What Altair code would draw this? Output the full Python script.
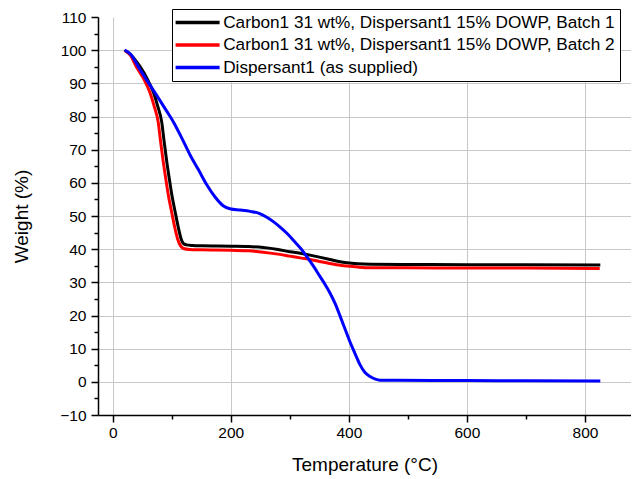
import altair as alt
import pandas as pd

S1 = "Carbon1 31 wt%, Dispersant1 15% DOWP, Batch 1"
S2 = "Carbon1 31 wt%, Dispersant1 15% DOWP, Batch 2"
S3 = "Dispersant1 (as supplied)"

black_t = [20, 30, 46, 58, 69, 76, 83, 87, 91.5, 96, 100, 106, 111, 116, 120, 125, 135, 150, 200, 230, 255, 280, 300, 320, 334, 350, 368, 383, 397, 415, 436, 500, 600, 700, 826]
black_w = [100, 98.7, 95.1, 91.5, 87.2, 83.2, 78.3, 72.5, 66.4, 61, 56.5, 51, 46.6, 43, 41.6, 41.3, 41.1, 41, 40.9, 40.8, 40.5, 39.9, 39.2, 38.7, 38.2, 37.6, 36.9, 36.3, 35.9, 35.6, 35.45, 35.4, 35.3, 35.3, 35.2]

red_t = [20, 30, 40, 52, 63, 70, 77, 81, 85.5, 90, 94, 100, 105, 110, 115, 120, 130, 150, 200, 230, 255, 280, 300, 320, 334, 350, 368, 383, 397, 415, 436, 500, 600, 700, 825]
red_w = [100, 98.4, 95, 91.5, 87.2, 83.2, 78.3, 72.5, 66.4, 61, 56.5, 51, 46.6, 43, 41, 40.2, 39.9, 39.8, 39.7, 39.5, 39.1, 38.5, 37.9, 37.3, 36.9, 36.3, 35.7, 35.2, 34.9, 34.6, 34.4, 34.4, 34.3, 34.3, 34.2]

blue_t = [20, 30, 46, 60, 75, 90, 103, 117, 131, 145, 159, 173, 187, 200, 216, 233, 248, 261, 272, 284, 295, 306, 318, 329, 340, 351, 360, 368, 377, 385, 394, 402, 411, 419, 427, 436, 445, 453, 480, 600, 700, 826]
blue_w = [100, 98.8, 94.2, 90.3, 86.2, 82, 78.3, 73.5, 68.4, 64, 59.5, 55.8, 53.1, 52.1, 51.8, 51.4, 50.8, 49.6, 48.3, 46.6, 44.8, 42.7, 40.3, 37.7, 34.9, 31.8, 29.3, 26.8, 23.5, 19.9, 15.7, 12, 8.3, 5.1, 2.9, 1.6, 0.8, 0.5, 0.45, 0.4, 0.3, 0.25]

x_ticks = [0, 100, 200, 300, 400, 500, 600, 700, 800]
y_ticks = [-10, -5, 0, 5, 10, 15, 20, 25, 30, 35, 40, 45, 50, 55, 60, 65, 70, 75, 80, 85, 90, 95, 100, 105, 110]

rows = []
for name, ts, ws in [(S1, black_t, black_w), (S2, red_t, red_w), (S3, blue_t, blue_w)]:
    for i, (t, w) in enumerate(zip(ts, ws)):
        rows.append({"series": name, "T": t, "W": w, "i": i})
df = pd.DataFrame(rows)

FONT = "Liberation Sans"

chart = alt.Chart(df).mark_line(strokeWidth=3, interpolate="monotone").encode(
    x=alt.X("T:Q", scale=alt.Scale(domain=[-25, 878], nice=False, zero=False),
            axis=alt.Axis(
                title="Temperature (°C)", values=x_ticks,
                labelExpr="datum.value % 200 === 0 ? datum.label : ''",
                tickSize={"condition": {"test": "datum.value % 200 === 0", "value": 7}, "value": 4},
                gridOpacity={"condition": {"test": "datum.value % 200 === 0", "value": 1}, "value": 0},
                grid=True, gridColor="#c8c8c8", gridWidth=1,
                domainColor="black", domainWidth=1.5, tickColor="black", tickWidth=1.5,
                labelFont=FONT, labelFontSize=15.5, labelColor="black", labelPadding=3,
                titleFont=FONT, titleFontSize=19, titleFontWeight="normal", titleColor="black",
                titlePadding=15, labelOverlap=False, labelFlush=False)),
    y=alt.Y("W:Q", scale=alt.Scale(domain=[-10, 110], nice=False, zero=False),
            axis=alt.Axis(
                title="Weight (%)", values=y_ticks,
                labelExpr="datum.value % 10 === 0 ? datum.label : ''",
                tickSize={"condition": {"test": "datum.value % 10 === 0", "value": 7}, "value": 4},
                gridOpacity={"condition": {"test": "datum.value % 10 === 0 && datum.value < 110", "value": 1}, "value": 0},
                grid=True, gridColor="#c8c8c8", gridWidth=1,
                domainColor="black", domainWidth=1.5, tickColor="black", tickWidth=1.5,
                labelFont=FONT, labelFontSize=15.5, labelColor="black", labelPadding=5,
                titleFont=FONT, titleFontSize=19, titleFontWeight="normal", titleColor="black",
                titlePadding=28, labelOverlap=False, labelFlush=False)),
    color=alt.Color("series:N",
                    scale=alt.Scale(domain=[S1, S2, S3], range=["#000000", "#ff0000", "#0000ff"]),
                    legend=alt.Legend(
                        title=None, orient="none", legendX=74, legendY=-8,
                        symbolType="M-4,0H4", symbolStrokeWidth=3.5, symbolSize=121,
                        symbolOffset=12,
                        labelFont=FONT, labelFontSize=17.2, labelColor="black", labelLimit=1000,
                        labelOffset=17, rowPadding=4.5, padding=5,
                        fillColor="white", strokeColor="black")),
    order="i:Q",
    detail="series:N",
).properties(
    width=533, height=398,
    autosize=alt.AutoSizeParams(type="none"),
    padding={"left": 90, "top": 9, "right": 0, "bottom": 64},
).configure_view(stroke=None)

chart.save("out.html", embed_options={"renderer": "svg", "actions": False})
